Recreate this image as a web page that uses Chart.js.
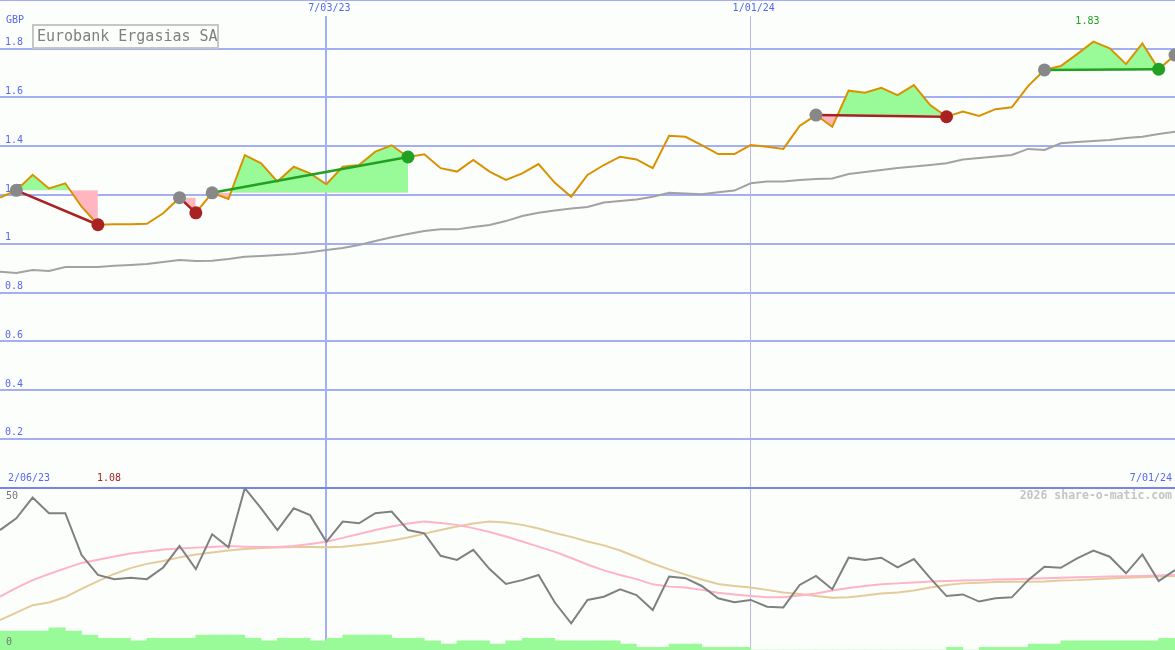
<!DOCTYPE html>
<html>
<head>
<meta charset="utf-8">
<title>Eurobank Ergasias SA</title>
<script src="https://cdn.jsdelivr.net/npm/chart.js@4.4.1/dist/chart.umd.min.js"></script>
<style>
  html, body { margin: 0; padding: 0; background: #fcfefc; }
  #wrap { position: relative; width: 1175px; height: 650px; }
</style>
</head>
<body>
<div id="wrap"><canvas id="chart" width="1175" height="650"></canvas></div>
<script>
// Weekly closes (GBP), one value per week, index 0 = 2/06/23
const price = [
  1.189, 1.219, 1.283, 1.227, 1.248, 1.152, 1.078, 1.080, 1.080, 1.082,
  1.125, 1.189, 1.127, 1.209, 1.184, 1.364, 1.330, 1.255, 1.316, 1.289,
  1.244, 1.316, 1.323, 1.378, 1.404, 1.356, 1.367, 1.310, 1.296, 1.344,
  1.296, 1.262, 1.289, 1.327, 1.250, 1.193, 1.282, 1.323, 1.357, 1.346,
  1.310, 1.443, 1.439, 1.405, 1.368, 1.368, 1.405, 1.398, 1.389, 1.483,
  1.528, 1.480, 1.628, 1.620, 1.640, 1.610, 1.651, 1.569, 1.521, 1.542,
  1.524, 1.552, 1.560, 1.647, 1.713, 1.729, 1.778, 1.829, 1.802, 1.737,
  1.822, 1.716, 1.774
];
// long moving average (grey)
const avgLong = [
  0.885, 0.880, 0.892, 0.888, 0.905, 0.905, 0.905, 0.910, 0.913, 0.917,
  0.925, 0.933, 0.929, 0.930, 0.937, 0.947, 0.950, 0.954, 0.958, 0.965,
  0.974, 0.983, 0.995, 1.011, 1.027, 1.040, 1.052, 1.059, 1.059, 1.069,
  1.077, 1.093, 1.114, 1.127, 1.136, 1.145, 1.151, 1.169, 1.175, 1.182,
  1.193, 1.209, 1.206, 1.203, 1.211, 1.218, 1.248, 1.255, 1.255, 1.262,
  1.266, 1.268, 1.286, 1.294, 1.303, 1.311, 1.317, 1.323, 1.330, 1.346,
  1.352, 1.358, 1.364, 1.389, 1.385, 1.412, 1.417, 1.422, 1.426, 1.434,
  1.439, 1.450, 1.460
];
// lower panel: oscillator and its two averages
const oscillator = [
  36.9, 40.5, 46.9, 42.1, 42.1, 29.2, 23.1, 21.8, 22.2, 21.8,
  25.4, 32.0, 24.9, 35.6, 31.6, 49.8, 43.6, 36.9, 43.6, 41.5,
  33.3, 39.5, 39.0, 42.1, 42.6, 36.9, 35.9, 29.0, 27.7, 30.8,
  24.9, 20.3, 21.5, 23.1, 14.6, 8.2, 15.4, 16.4, 18.7, 16.9,
  12.3, 22.6, 22.1, 19.7, 15.9, 14.7, 15.4, 13.3, 13.1, 20.0,
  22.8, 18.7, 28.4, 27.7, 28.4, 25.4, 28.0, 22.1, 16.6, 17.1,
  14.9, 15.9, 16.2, 21.5, 25.6, 25.3, 28.2, 30.6, 28.7, 23.6,
  29.4, 21.2, 24.6
];
const oscFast = [
  16.4, 19.1, 21.5, 23.4, 25.1, 26.8, 27.8, 28.8, 29.7, 30.3,
  30.9, 31.2, 31.5, 31.7, 32.0, 31.8, 31.7, 31.7, 32.0, 32.6,
  33.3, 34.5, 35.7, 36.9, 38.0, 38.9, 39.5, 39.1, 38.5, 37.5,
  36.3, 34.9, 33.4, 31.8, 30.2, 28.3, 26.3, 24.5, 23.1, 21.8,
  20.2, 19.5, 19.2, 18.5, 17.6, 17.1, 16.6, 16.2, 16.2, 16.8,
  17.4, 18.3, 19.1, 19.7, 20.2, 20.5, 20.8, 21.1, 21.2, 21.4,
  21.5, 21.7, 21.8, 21.9, 22.1, 22.2, 22.4, 22.5, 22.6, 22.7,
  22.8, 22.9, 23.1
];
const oscSlow = [
  9.2, 11.5, 13.8, 14.6, 16.3, 18.8, 21.2, 23.4, 25.2, 26.5,
  27.4, 28.5, 29.4, 30.0, 30.6, 31.1, 31.4, 31.5, 31.7, 31.7,
  31.6, 31.8, 32.3, 32.9, 33.7, 34.6, 35.8, 36.9, 38.0, 38.9,
  39.5, 39.2, 38.5, 37.4, 36.0, 34.8, 33.4, 32.2, 30.6, 28.6,
  26.6, 24.8, 23.2, 21.7, 20.3, 19.7, 19.2, 18.5, 17.7, 17.2,
  16.6, 16.1, 16.2, 16.8, 17.4, 17.7, 18.3, 19.2, 20.0, 20.5,
  20.7, 20.9, 21.0, 21.0, 21.1, 21.4, 21.5, 21.8, 22.0, 22.2,
  22.4, 22.6, 22.8
];
// weekly volume, relative units (bar i covers week i to i+1)
const volume = [
  5.8, 5.8, 5.8, 6.8, 5.8, 4.6, 3.6, 3.6, 2.8, 3.6,
  3.6, 3.6, 4.6, 4.6, 4.6, 3.6, 2.8, 3.6, 3.6, 2.8,
  3.6, 4.6, 4.6, 4.6, 3.6, 3.6, 2.8, 1.8, 2.8, 2.8,
  1.8, 2.8, 3.6, 3.6, 2.8, 2.8, 2.8, 2.8, 1.8, 0.8,
  0.8, 1.8, 1.8, 0.8, 0.8, 0.8, 0, 0, 0, 0,
  0, 0, 0, 0, 0, 0, 0, 0, 0.8, 0,
  0.8, 0.8, 0.8, 1.8, 1.8, 2.8, 2.8, 2.8, 2.8, 2.8,
  2.8, 3.6
];

const priceTicks = [0, 0.2, 0.4, 0.6, 0.8, 1, 1.2, 1.4, 1.6, 1.8, 2];
const priceTickLabels = ['', '0.2', '0.4', '0.6', '0.8', '1', '1.2', '1.4', '1.6', '1.8', ''];
const oscTicks = [0, 50];
const oscTickLabels = ['0', '50'];
const dateTickIdx = [20, 46];
const dateTickLabels = ['7/03/23', '1/01/24'];
const firstDate = '2/06/23';
const lastDate = '7/01/24';

// trades: entry week, exit week (null = still open), gain or loss
const tradeEntry = [1, 11, 13, 50, 64, 72];
const tradeExit = [6, 12, 25, 58, 71, null];
const tradeGain = [false, false, true, false, true, null];

const GRID = '#a4aef2';
const SEP = '#7585ea';
const AXIS_TEXT = '#5668f0';
const MONO = '"DejaVu Sans Mono", "Liberation Mono", monospace';
const GAIN = '#22a022';
const LOSS = '#a82222';
const OPEN = '#888888';

const xy = (arr, from = 0, to = arr.length - 1, shift = 0) =>
  arr.slice(from, to + 1).map((y, k) => ({ x: from + k + shift, y }));

const datasets = [];

// shaded zones between price and entry level
tradeEntry.forEach((e, t) => {
  const x = tradeExit[t];
  if (x === null) return;
  datasets.push({
    type: 'line', yAxisID: 'y', data: xy(price, e, x),
    borderColor: 'rgba(0,0,0,0)', borderWidth: 0, pointRadius: 0,
    fill: { target: { value: price[e] }, above: 'palegreen', below: 'lightpink' },
    order: 30
  });
});

datasets.push({
  type: 'line', yAxisID: 'y', data: xy(avgLong),
  borderColor: '#a2a2a2', borderWidth: 2, pointRadius: 0, order: 25
});
datasets.push({
  type: 'line', yAxisID: 'y', data: xy(price),
  borderColor: '#d99100', borderWidth: 2, pointRadius: 0, order: 20
});

// entry -> exit lines
tradeEntry.forEach((e, t) => {
  const x = tradeExit[t];
  if (x === null) return;
  datasets.push({
    type: 'line', yAxisID: 'y',
    data: [{ x: e, y: price[e] }, { x: x, y: price[x] }],
    borderColor: tradeGain[t] ? GAIN : LOSS, borderWidth: 2.5, pointRadius: 0, order: 15
  });
});

// entry / exit markers
const markers = [];
const markerColors = [];
tradeEntry.forEach((e, t) => {
  markers.push({ x: e, y: price[e] });
  markerColors.push(OPEN);
  const x = tradeExit[t];
  if (x !== null) {
    markers.push({ x: x, y: price[x] });
    markerColors.push(tradeGain[t] ? GAIN : LOSS);
  }
});
datasets.push({
  type: 'line', yAxisID: 'y', data: markers, showLine: false,
  pointRadius: 6.5, pointBorderWidth: 0,
  pointBackgroundColor: markerColors, pointBorderColor: markerColors, order: 10
});

// lower panel
datasets.push({
  type: 'bar', yAxisID: 'yLow', data: xy(volume, 0, volume.length - 1, 0.5),
  backgroundColor: 'palegreen', barPercentage: 1, categoryPercentage: 1,
  borderWidth: 0, order: 30
});
datasets.push({
  type: 'line', yAxisID: 'yLow', data: xy(oscSlow),
  borderColor: '#e3cc9a', borderWidth: 2, pointRadius: 0, order: 24
});
datasets.push({
  type: 'line', yAxisID: 'yLow', data: xy(oscFast),
  borderColor: '#ffb3c6', borderWidth: 2, pointRadius: 0, order: 23
});
datasets.push({
  type: 'line', yAxisID: 'yLow', data: xy(oscillator),
  borderColor: '#808080', borderWidth: 2, pointRadius: 0, order: 22
});

// texts that are not axis ticks
const labelsPlugin = {
  id: 'labels',
  afterDraw(chart) {
    const { ctx, scales } = chart;
    const xs = scales.x, ys = scales.y, yl = scales.yLow;
    const sepY = ys.getPixelForValue(0);
    ctx.save();
    ctx.textBaseline = 'middle';
    ctx.font = '10px ' + MONO;

    // date labels along the top
    dateTickIdx.forEach((v, i) => {
      const px = xs.getPixelForValue(v);
      ctx.fillStyle = '#fcfefc';
      ctx.fillRect(px - 26, 2, 56, 14);
      ctx.fillStyle = AXIS_TEXT;
      ctx.textAlign = 'center';
      ctx.fillText(dateTickLabels[i], px + 3, 8);
    });
    ctx.fillStyle = AXIS_TEXT;
    ctx.textAlign = 'left';
    ctx.fillText(firstDate, xs.getPixelForValue(0) + 8, sepY - 9);
    ctx.textAlign = 'right';
    ctx.fillText(lastDate, xs.getPixelForValue(price.length - 1) - 3, sepY - 9);
    ctx.textAlign = 'left';
    ctx.fillText('GBP', 6, ys.getPixelForValue(1.8) - 28);

    // lowest and highest close
    const lo = Math.min(...price), hi = Math.max(...price);
    const loI = price.indexOf(lo), hiI = price.indexOf(hi);
    ctx.fillStyle = LOSS;
    ctx.textAlign = 'left';
    ctx.fillText(lo.toFixed(2), xs.getPixelForValue(loI) - 1, sepY - 9);
    ctx.fillStyle = GAIN;
    ctx.textAlign = 'center';
    ctx.fillText(hi.toFixed(2), xs.getPixelForValue(hiI) - 6, 21);

    // lower panel scale labels
    ctx.fillStyle = '#777777';
    ctx.textAlign = 'left';
    ctx.fillText(oscTickLabels[1], 6, yl.getPixelForValue(oscTicks[1]) + 9);
    ctx.fillText(oscTickLabels[0], 6, yl.getPixelForValue(oscTicks[0]) - 8);

    // credit
    ctx.font = 'bold 11.5px ' + MONO;
    ctx.fillStyle = '#c4c4c4';
    ctx.textAlign = 'right';
    ctx.fillText('2026 share-o-matic.com', 1172, sepY + 9);

    // title box
    ctx.fillStyle = '#fcfefc';
    ctx.fillRect(33, 25, 185, 23);
    ctx.strokeStyle = '#c6c6c6';
    ctx.lineWidth = 2;
    ctx.strokeRect(33, 25, 185, 23);
    ctx.font = '15px ' + MONO;
    ctx.fillStyle = '#7f7f7f';
    ctx.textAlign = 'left';
    ctx.fillText('Eurobank Ergasias SA', 37, 37);
    ctx.restore();
  }
};

new Chart(document.getElementById('chart'), {
  type: 'line',
  data: { datasets },
  options: {
    responsive: false,
    animation: false,
    devicePixelRatio: 1,
    events: [],
    layout: { padding: 0, autoPadding: false },
    plugins: { legend: { display: false }, tooltip: { enabled: false } },
    scales: {
      x: {
        type: 'linear', min: 0, max: price.length - 1, offset: false,
        border: { display: false },
        ticks: { display: false },
        grid: {
          offset: false, drawTicks: false,
          color: c => c.tick && c.tick.value === dateTickIdx[1] ? '#b6bbe6' : GRID,
          lineWidth: c => c.tick && c.tick.value === dateTickIdx[1] ? 1 : 2
        },
        afterBuildTicks: s => { s.ticks = dateTickIdx.map(v => ({ value: v })); },
        afterFit: s => { s.height = 0; s.paddingLeft = 0; s.paddingRight = 0; }
      },
      yLow: {
        type: 'linear', position: 'left', stack: 'panels', stackWeight: 1,
        min: oscTicks[0], max: oscTicks[1],
        border: { display: false },
        grid: { display: false },
        ticks: { display: false },
        afterFit: s => { s.width = 0; s.paddingTop = 0; s.paddingBottom = 0; }
      },
      y: {
        type: 'linear', position: 'left', stack: 'panels', stackWeight: 3,
        min: 0, max: 2,
        border: { display: false },
        grid: {
          drawTicks: false, lineWidth: 2,
          color: c => c.tick && c.tick.value === 0 ? SEP : GRID
        },
        afterBuildTicks: s => { s.ticks = priceTicks.map(v => ({ value: v })); },
        ticks: {
          mirror: true, padding: 5, labelOffset: -6, autoSkip: false,
          color: AXIS_TEXT, font: { family: MONO, size: 10 },
          callback: (v, i) => priceTickLabels[i]
        },
        afterFit: s => { s.width = 0; s.paddingTop = 0; s.paddingBottom = 0; }
      }
    }
  },
  plugins: [labelsPlugin]
});
</script>
</body>
</html>
